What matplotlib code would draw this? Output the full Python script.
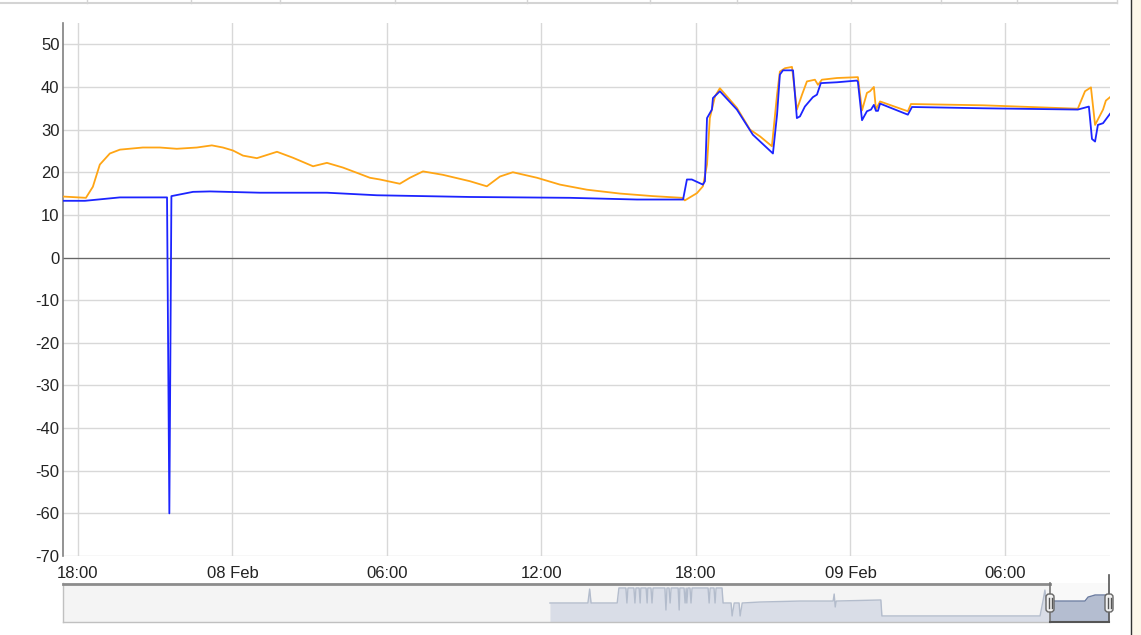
import matplotlib
matplotlib.use('Agg')
import matplotlib.pyplot as plt
import matplotlib.dates as mdates
import matplotlib.transforms as mtrans
import pandas as pd
from matplotlib.lines import Line2D
from matplotlib.patches import Rectangle, FancyBboxPatch

W, H = 1141, 635
START = pd.Timestamp('2016-02-07 18:00')

# hours after 07 Feb 18:00
orange_hours = [-0.58, 0.31, 0.58, 0.85, 1.24, 1.63, 2.52, 3.18, 3.84, 4.62, 5.20, 5.63,
                6.02, 6.41, 6.95, 7.73, 8.35, 9.13, 9.67, 10.29, 10.95, 11.34, 11.73,
                12.50, 12.89, 13.40, 14.17, 15.22, 15.88, 16.39, 16.89, 17.83, 18.72,
                19.77, 21.05, 22.33, 23.46, 23.57, 24.04, 24.27, 24.43, 24.54, 24.74,
                24.93, 25.59, 26.10, 26.49, 26.95, 27.15, 27.26, 27.46, 27.73, 27.92,
                28.12, 28.31, 28.62, 28.74, 28.89, 29.48, 30.29, 30.45, 30.64, 30.76,
                30.91, 30.99, 31.15, 32.23, 32.35, 35.15, 38.83, 39.11, 39.34, 39.50,
                39.81, 39.92, 40.08]
orange_vals = [14.3, 14.0, 16.6, 21.8, 24.4, 25.3, 25.8, 25.8, 25.5, 25.8, 26.3, 25.8,
               25.1, 23.9, 23.3, 24.8, 23.4, 21.4, 22.2, 21.1, 19.6, 18.7, 18.3,
               17.3, 18.7, 20.2, 19.4, 17.9, 16.7, 19.0, 20.0, 18.7, 17.1,
               15.9, 15.0, 14.4, 14.0, 13.4, 15.1, 16.7, 21.8, 32.7, 37.8,
               39.7, 35.1, 30.0, 28.4, 26.1, 38.2, 43.6, 44.4, 44.7, 34.7,
               38.2, 41.3, 41.7, 40.5, 41.7, 42.1, 42.3, 34.5, 38.6, 39.0,
               40.0, 34.7, 36.6, 34.3, 36.0, 35.7, 34.9, 39.0, 39.9, 31.1,
               34.7, 36.8, 37.6]

blue_hours = [-0.58, 0.27, 1.63, 3.18, 3.46, 3.55, 3.63, 4.47, 5.13, 7.07, 9.67, 11.61,
              15.22, 19.11, 21.71, 23.50, 23.65, 23.84, 24.27, 24.35, 24.43, 24.62,
              24.66, 24.93, 25.59, 26.21, 26.99, 27.15, 27.26, 27.38, 27.77, 27.92,
              28.04, 28.23, 28.54, 28.70, 28.85, 29.48, 30.25, 30.29, 30.45, 30.64,
              30.80, 30.91, 30.99, 31.07, 31.15, 32.23, 32.39, 35.15, 38.83, 39.26,
              39.38, 39.50, 39.61, 39.81, 40.08]
blue_vals = [13.3, 13.3, 14.1, 14.1, 14.1, -60.0, 14.4, 15.4, 15.5, 15.2, 15.2, 14.6,
             14.2, 14.0, 13.6, 13.6, 18.3, 18.3, 17.1, 17.9, 32.7, 34.7,
             37.4, 39.0, 34.7, 28.8, 24.4, 33.5, 42.9, 43.9, 43.9, 32.7,
             33.1, 35.4, 37.6, 38.2, 40.9, 41.1, 41.5, 41.2, 32.2, 34.3,
             34.7, 35.8, 34.4, 34.4, 36.1, 33.5, 35.3, 35.0, 34.7, 35.4,
             27.8, 27.2, 31.1, 31.5, 33.7]

y_ticks = list(range(-70, 51, 10))

# navigator: days into the overview range
nav_days = [13.98, 15.07, 15.12, 15.16, 15.91, 15.96, 16.16, 16.19, 16.22, 16.39, 16.42,
            16.45, 16.54, 16.57, 16.59, 16.74, 16.77, 16.79, 16.88, 16.91, 16.94, 17.28,
            17.31, 17.34, 17.40, 17.43, 17.46, 17.66, 17.69, 17.71, 17.83, 17.86, 17.89,
            17.91, 17.94, 18.00, 18.03, 18.06, 18.52, 18.55, 18.58, 18.69, 18.72, 18.75,
            18.92, 18.95, 19.18, 19.21, 19.27, 19.41, 19.44, 19.50, 20.01, 21.16, 22.11,
            22.14, 22.17, 22.20, 23.48, 23.51, 28.05, 28.14, 28.19, 28.22, 28.34, 29.05,
            29.34, 29.43, 29.54, 29.63, 30.03]
nav_vals = [19.5, 19.5, 33.8, 19.5, 19.5, 34.9, 34.9, 19.5, 34.9, 34.9, 19.5,
            34.9, 34.9, 19.5, 34.9, 34.9, 19.5, 34.9, 34.9, 19.5, 34.9, 34.9,
            12.3, 34.9, 34.9, 19.5, 34.9, 34.9, 12.3, 34.9, 34.9, 19.5, 34.9,
            19.5, 34.9, 34.9, 19.5, 34.9, 34.9, 19.5, 34.9, 34.9, 19.5, 34.9,
            34.9, 19.5, 19.5, 6.2, 19.5, 19.5, 6.2, 19.5, 20.5, 21.5, 21.5,
            28.7, 15.4, 21.5, 22.6, 6.2, 6.2, 22.6, 32.8, 22.6, 21.5, 21.5,
            21.5, 25.6, 26.7, 27.7, 27.7]
nav_sel = (28.34, 30.03)


def fx(x):
    return x / W


def fy(y):
    return 1 - y / H


def to_time(hours):
    return START + pd.to_timedelta(hours, unit='h')


def fmt_time(x, pos):
    d = mdates.num2date(x)
    return d.strftime('%d %b') if d.hour == 0 else d.strftime('%H:%M')


plt.rcParams['font.family'] = ['Liberation Sans', 'DejaVu Sans']
plt.rcParams['axes.unicode_minus'] = False
fig = plt.figure(figsize=(W / 100, H / 100), dpi=100)

# main chart
ax = fig.add_axes([fx(63), fy(556), fx(1110) - fx(63), fy(23) - fy(556)])
ax.plot(to_time(orange_hours), orange_vals, color='#ffa514', lw=1.3, zorder=3)
ax.plot(to_time(blue_hours), blue_vals, color='#1c24ff', lw=1.3, zorder=4)
ax.axhline(0, color='#666666', lw=0.9, zorder=2)

ax.set_xlim(to_time(-0.58), to_time(40.08))
ax.set_ylim(-70, 55)
ax.set_yticks(y_ticks)
ax.xaxis.set_major_locator(mdates.HourLocator(byhour=[0, 6, 12, 18]))
ax.xaxis.set_major_formatter(plt.FuncFormatter(fmt_time))
ax.grid(True, color='#d8d8d8', lw=1)
ax.set_axisbelow(True)
for s in ['top', 'right', 'bottom']:
    ax.spines[s].set_visible(False)
ax.spines['left'].set_color('#808080')
ax.spines['left'].set_linewidth(1.2)
ax.tick_params(axis='both', length=0, labelsize=12, labelcolor='#222222')
ax.tick_params(axis='y', pad=2.5)
ax.tick_params(axis='x', pad=7)

# navigator
nav = fig.add_axes([fx(63), fy(622), fx(1109) - fx(63), fy(583) - fy(622)])
nav.set_xlim(0, nav_sel[1])
nav.set_ylim(0, 40)
nav.axis('off')
nav.add_patch(Rectangle((0, 0), nav_sel[1], 40, color='#f4f4f4', zorder=0))
nav.add_patch(Rectangle((nav_sel[0], 0), nav_sel[1] - nav_sel[0], 40,
                        color='#f9f9f9', zorder=0))

out_clip = Rectangle((0, 0), nav_sel[0], 40, transform=nav.transData)
in_clip = Rectangle((nav_sel[0], 0), nav_sel[1] - nav_sel[0], 40, transform=nav.transData)
f1 = nav.fill_between(nav_days, nav_vals, 0, color='#d9dde7', lw=0, zorder=1)
l1, = nav.plot(nav_days, nav_vals, color='#b3bccc', lw=1, zorder=2)
f1.set_clip_path(out_clip)
l1.set_clip_path(out_clip)
f2 = nav.fill_between(nav_days, nav_vals, 0, color='#b4bdd0', lw=0, zorder=1)
l2, = nav.plot(nav_days, nav_vals, color='#6a7ba0', lw=1, zorder=2)
f2.set_clip_path(in_clip)
l2.set_clip_path(in_clip)

# navigator outline
px = mtrans.IdentityTransform()
outline = [
    ([63, 63], [583, 622], '#c0c0c0', 1),
    ([63, 1050], [622, 622], '#c0c0c0', 1),
    ([63, 1050], [583.5, 583.5], '#8c8c8c', 2),
    ([1050, 1050], [583, 622], '#777777', 1.2),
    ([1050, 1109], [622, 622], '#555555', 1.5),
    ([1109, 1109], [575, 622], '#555555', 1.2),
]
for xs, ys, c, w in outline:
    fig.add_artist(Line2D([fx(x) for x in xs], [fy(y) for y in ys], color=c, lw=w,
                          transform=fig.transFigure, zorder=5))

for hx in [1050, 1109]:
    fig.add_artist(FancyBboxPatch((hx - 4, H - 612), 8, 18, transform=px,
                                  boxstyle='round,pad=0,rounding_size=3',
                                  fc='#f2f2f2', ec='#666666', lw=1, zorder=6))
    for dx in [-1.5, 1.5]:
        fig.add_artist(Line2D([fx(hx + dx)] * 2, [fy(598), fy(608)], color='#555555',
                              lw=1, transform=fig.transFigure, zorder=7))

# page bits around the chart
fig.add_artist(Line2D([0, fx(1117)], [fy(2.5)] * 2, color='#d4d4d4', lw=1.5,
                      transform=fig.transFigure))
for sx in [87, 191, 280, 395, 527, 650, 737, 851, 941, 1017, 1117]:
    fig.add_artist(Line2D([fx(sx)] * 2, [fy(0), fy(3)], color='#d4d4d4', lw=1,
                          transform=fig.transFigure))
fig.add_artist(Rectangle((fx(1131), 0), 1 - fx(1131), 1, color='#fdf7ea',
                         transform=fig.transFigure))
fig.add_artist(Line2D([fx(1131)] * 2, [0, 1], color='#333333', lw=1,
                      transform=fig.transFigure))

fig.savefig('out.png', dpi=100)
